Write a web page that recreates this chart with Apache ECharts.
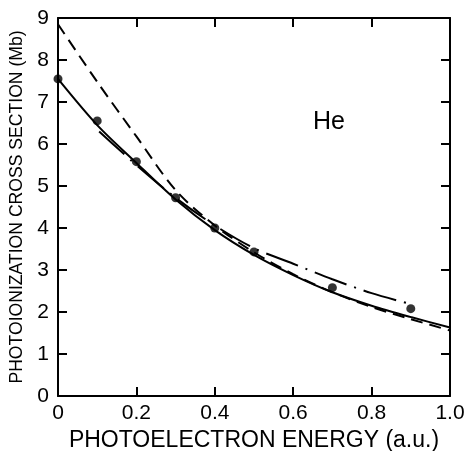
<!DOCTYPE html>
<html style="height: 100%">
<head>
<meta charset="utf-8">
<script src="https://cdn.jsdelivr.net/npm/echarts@6/dist/echarts.min.js"></script>
</head>
<body style="height: 100%; margin: 0; background: #fff">
<div id="container" style="width: 468px; height: 451px"></div>
<script type="text/javascript">
// curve samples
var curveX = [0, 0.1, 0.2, 0.3, 0.4, 0.5, 0.6, 0.7, 0.8, 0.9, 1.0];
var solidY = [7.55, 6.45, 5.55, 4.68, 3.95, 3.36, 2.88, 2.47, 2.15, 1.88, 1.63];
var dashedY = [8.85, 7.48, 6.18, 4.9, 4.06, 3.42, 2.9, 2.47, 2.12, 1.83, 1.56];

var dashDotX = [0.105, 0.2, 0.3, 0.4, 0.5, 0.6, 0.7, 0.8, 0.895];
var dashDotY = [6.3, 5.5, 4.72, 4.06, 3.52, 3.15, 2.78, 2.45, 2.2];

// measured points
var pointX = [0, 0.1, 0.2, 0.3, 0.4, 0.5, 0.7, 0.9];
var pointY = [7.55, 6.55, 5.58, 4.72, 4.0, 3.43, 2.58, 2.08];

var xTitle = 'PHOTOELECTRON ENERGY (a.u.)';
var yTitle = 'PHOTOIONIZATION CROSS SECTION (Mb)';
var tag = 'He';

function pairs(xs, ys) {
    var out = [];
    for (var i = 0; i < xs.length; i++) {
        out.push([xs[i], ys[i]]);
    }
    return out;
}

var font = 'Liberation Sans';
var chart = echarts.init(document.getElementById('container'));

function axisLine(onZero) {
    return { show: true, onZero: onZero, lineStyle: { color: '#000', width: 2 } };
}
function axisTick() {
    return { show: true, inside: true, length: 9, lineStyle: { color: '#000', width: 2 } };
}
var noSplit = { show: false };

option = {
    animation: false,
    backgroundColor: '#fff',
    grid: { left: 58, right: 18, top: 18, bottom: 55, outerBoundsMode: 'none', containLabel: false },
    xAxis: [{
        type: 'value', min: 0, max: 1, interval: 0.2, z: 20,
        name: xTitle, nameLocation: 'middle', nameGap: 26,
        nameTextStyle: { color: '#000', fontSize: 23, fontFamily: font, verticalAlign: 'top' },
        axisLine: axisLine(true),
        axisTick: axisTick(),
        axisLabel: {
            color: '#000', fontSize: 21, fontFamily: font, margin: 7,
            formatter: function (v) { return v === 0 ? '0' : v.toFixed(1); }
        },
        splitLine: { show: false },
        splitArea: { show: false },
        minorSplitLine: { show: false }
    }, {
        type: 'value', position: 'top', min: 0, max: 1, interval: 0.2, z: 20,
        axisLine: axisLine(false),
        axisTick: axisTick(),
        axisLabel: { show: false },
        splitLine: { show: false },
        splitArea: { show: false },
        minorSplitLine: { show: false }
    }],
    yAxis: [{
        type: 'value', min: 0, max: 9, interval: 1, z: 20,
        name: yTitle, nameLocation: 'middle', nameGap: 27, nameRotate: 90,
        nameTextStyle: { color: '#000', fontSize: 17.6, fontFamily: font },
        axisLine: axisLine(true),
        axisTick: axisTick(),
        axisLabel: { color: '#000', fontSize: 21, fontFamily: font, margin: 9 },
        splitLine: { show: false },
        splitArea: { show: false },
        minorSplitLine: { show: false }
    }, {
        type: 'value', position: 'right', min: 0, max: 9, interval: 1, z: 20,
        axisLine: axisLine(false),
        axisTick: axisTick(),
        axisLabel: { show: false },
        splitLine: { show: false },
        splitArea: { show: false },
        minorSplitLine: { show: false }
    }],
    graphic: [{
        type: 'text', left: 313, top: 110,
        style: { text: tag, fill: '#000', fontSize: 25, fontFamily: font }
    }],
    series: [{
        type: 'line', data: pairs(curveX, solidY), smooth: 0.3,
        showSymbol: false,
        lineStyle: { color: '#000', width: 2 }
    }, {
        type: 'line', data: pairs(curveX, dashedY), smooth: 0.3,
        showSymbol: false,
        lineStyle: { color: '#000', width: 2, type: [12, 7] }
    }, {
        type: 'line', data: pairs(dashDotX, dashDotY), smooth: 0.3,
        showSymbol: false,
        lineStyle: { color: '#000', width: 2, type: [34, 8, 2, 8] }
    }, {
        type: 'scatter', data: pairs(pointX, pointY),
        symbol: 'circle', symbolSize: 9,
        itemStyle: { color: '#000' }
    }]
};

chart.setOption(option);
</script>
</body>
</html>
